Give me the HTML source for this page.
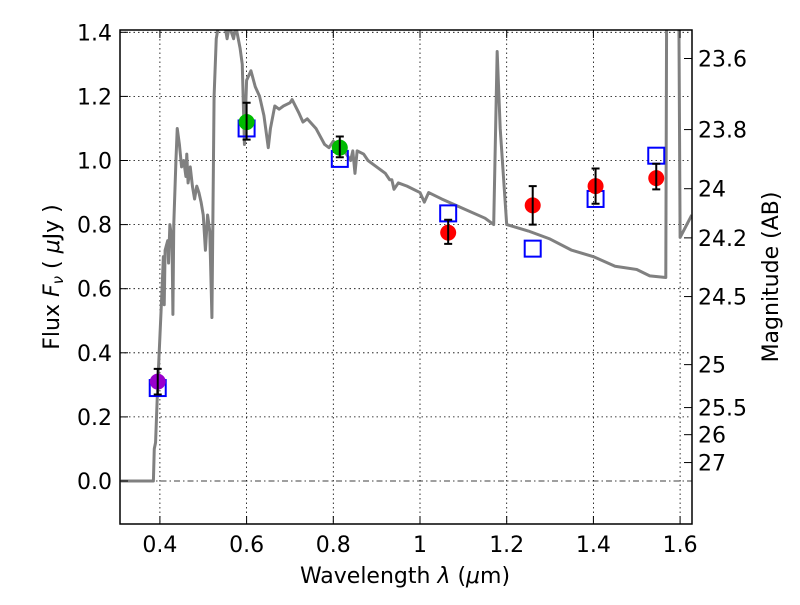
<!DOCTYPE html>
<html><head><meta charset="utf-8"><style>
body{margin:0;background:#fff}
svg text{font-family:"DejaVu Sans","Liberation Sans",sans-serif;fill:#000}
</style></head><body>
<svg id="chart" width="800" height="600">
<g id="grid"></g>
<g id="spec"></g>
<g id="marks"></g>
<rect x="120" y="30" width="572" height="494" fill="none" stroke="#000" stroke-width="1.5"/>
<g id="ticks"></g>
<text x="405" y="583" font-size="22" text-anchor="middle">Wavelength  <tspan font-style="italic">λ</tspan> (<tspan font-style="italic">μ</tspan>m)</text>
<text transform="translate(59,277) rotate(-90)" font-size="22" text-anchor="middle">Flux  <tspan font-style="italic">F<tspan font-size="15" dy="4">ν</tspan></tspan><tspan dy="-4">  ( </tspan><tspan font-style="italic">μ</tspan>Jy )</text>
<text transform="translate(778,277) rotate(-90)" font-size="22" text-anchor="middle">Magnitude (AB)</text>
</svg>
<script>
const xTicks=[0.4,0.6,0.8,1.0,1.2,1.4,1.6];
const xTickLabels=["0.4","0.6","0.8","1","1.2","1.4","1.6"];
const yTicks=[0,0.2,0.4,0.6,0.8,1.0,1.2,1.4];
const yTickLabels=["0.0","0.2","0.4","0.6","0.8","1.0","1.2","1.4"];
const magTicks=[23.6,23.8,24,24.2,24.5,25,25.5,26,27];
const magTickLabels=["23.6","23.8","24","24.2","24.5","25","25.5","26","27"];
const obsWave=[0.395,0.6,0.815,1.065,1.26,1.405,1.545];
const obsFlux=[0.31,1.12,1.04,0.775,0.86,0.92,0.945];
const obsErrLo=[0.27,1.065,1.01,0.74,0.80,0.865,0.91];
const obsErrHi=[0.35,1.18,1.075,0.815,0.92,0.975,0.99];
const obsColor=["#9900cc","#00bb00","#00bb00","#ff0000","#ff0000","#ff0000","#ff0000"];
const modelFlux=[0.29,1.10,1.005,0.835,0.725,0.88,1.015];
const specWave=[0.31,0.385,0.387,0.39,0.395,0.40,0.405,0.408,0.41,0.412,0.418,0.42,0.423,0.428,0.43,0.432,0.437,0.44,0.445,0.45,0.455,0.46,0.462,0.465,0.47,0.475,0.48,0.485,0.49,0.495,0.50,0.505,0.51,0.515,0.52,0.525,0.53,0.535,0.55,0.555,0.56,0.57,0.575,0.585,0.59,0.595,0.6,0.61,0.62,0.63,0.64,0.65,0.655,0.665,0.675,0.685,0.7,0.705,0.72,0.73,0.74,0.76,0.78,0.79,0.80,0.81,0.82,0.83,0.84,0.845,0.85,0.855,0.87,0.88,0.9,0.92,0.93,0.935,0.94,0.95,0.97,1.0,1.01,1.02,1.05,1.1,1.15,1.17,1.178,1.185,1.2,1.25,1.3,1.35,1.4,1.45,1.5,1.53,1.567,1.569,1.597,1.6,1.627];
const specFlux=[0,0,0.1,0.12,0.3,0.45,0.6,0.7,0.55,0.72,0.75,0.68,0.8,0.75,0.52,0.8,1.0,1.1,1.05,0.98,1.0,0.95,1.02,0.93,0.98,0.92,0.88,0.92,0.9,0.87,0.83,0.72,0.83,0.78,0.51,1.2,1.38,1.42,1.42,1.38,1.42,1.38,1.42,1.35,1.3,1.05,1.25,1.28,1.23,1.2,1.14,1.04,1.1,1.17,1.16,1.17,1.18,1.19,1.15,1.12,1.13,1.10,1.05,1.04,1.06,1.05,1.04,1.02,1.0,1.03,0.96,1.03,1.02,1.0,0.98,0.96,0.94,0.94,0.91,0.93,0.92,0.9,0.87,0.9,0.88,0.85,0.82,0.8,1.34,1.1,0.8,0.78,0.755,0.72,0.7,0.67,0.66,0.64,0.635,1.5,1.5,0.76,0.83];
const NS="http://www.w3.org/2000/svg";
const X=v=>159.9+(v-0.4)*433.5;
const Y=v=>481-v*320.5;
function mk(p,t,a){const e=document.createElementNS(NS,t);for(const k in a)e.setAttribute(k,a[k]);p.appendChild(e);return e;}
const grid=document.getElementById('grid'),ticks=document.getElementById('ticks'),marks=document.getElementById('marks'),spec=document.getElementById('spec');
xTicks.forEach((v,i)=>{
 const g=mk(grid,'line',{x1:X(v),x2:X(v),y1:30,y2:524,stroke:'#000','stroke-width':0.8,'stroke-dasharray':'1.5,3'});
 
 
 mk(ticks,'line',{x1:X(v),x2:X(v),y1:524,y2:516,stroke:'#000'});
 mk(ticks,'line',{x1:X(v),x2:X(v),y1:30,y2:38,stroke:'#000'});
 const t=mk(ticks,'text',{x:X(v),y:552,'font-size':22,'text-anchor':'middle'});t.textContent=xTickLabels[i];
 
 
});
yTicks.forEach((v,i)=>{
 const g=mk(grid,'line',{x1:120,x2:692,y1:Y(v),y2:Y(v),stroke:'#000','stroke-width':0.8,'stroke-dasharray':v===0?'6,3,1.5,3':'1.5,3'});
 
 
 mk(ticks,'line',{x1:120,x2:128,y1:Y(v),y2:Y(v),stroke:'#000'});
 const t=mk(ticks,'text',{x:112,y:Y(v)+8,'font-size':22,'text-anchor':'end'});t.textContent=yTickLabels[i];
 
 
});
magTicks.forEach((m,i)=>{
 const f=Math.pow(10,(23.9-m)/2.5);const y=Y(f);
 mk(ticks,'line',{x1:684,x2:692,y1:y,y2:y,stroke:'#000'});
 const t=mk(ticks,'text',{x:698,y:y+8,'font-size':22});t.textContent=magTickLabels[i];
 
 
});
const pl=mk(spec,'polyline',{points:specWave.map((w,i)=>X(w)+','+Y(specFlux[i])).join(' '),fill:'none',stroke:'#808080','stroke-width':3,'stroke-linejoin':'round'});


const clip=mk(spec,'clipPath',{id:'cp'});mk(clip,'rect',{x:120,y:30,width:572,height:494});
spec.setAttribute('clip-path','url(#cp)');
obsWave.forEach((w,i)=>{
 const b=mk(marks,'rect',{x:X(w)-8,y:Y(modelFlux[i])-8,width:16,height:16,fill:'none',stroke:'#0000ff','stroke-width':2});
 
 
 const c=mk(marks,'circle',{cx:X(w),cy:Y(obsFlux[i]),r:8,fill:obsColor[i]});
 
 
 const x=X(w),y1=Y(obsErrLo[i]),y2=Y(obsErrHi[i]);
 const e=mk(marks,'path',{d:`M${x},${y1}V${y2}M${x-4},${y1}H${x+4}M${x-4},${y2}H${x+4}`,stroke:'#000','stroke-width':2,fill:'none'});
 
 
});
</script>
</body></html>
